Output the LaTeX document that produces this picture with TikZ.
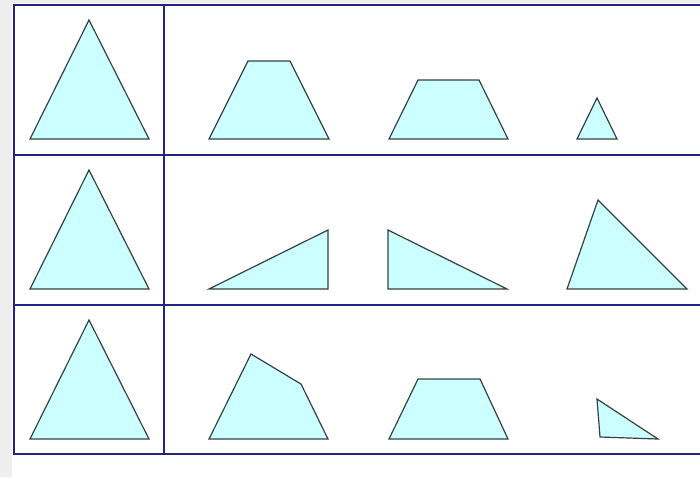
\documentclass[tikz,border=0pt]{standalone}
\usepackage{tikz}
\definecolor{gridblue}{RGB}{35,35,130}
\definecolor{shapefill}{RGB}{204,255,255}
\definecolor{shapeline}{RGB}{55,65,65}
\definecolor{pagegray}{RGB}{238,238,238}
\tikzset{
  polyshape/.style={fill=shapefill, draw=shapeline, line width=1.2pt, line join=miter},
  gridline/.style={draw=gridblue, line width=2.8pt}
}
\begin{document}
\begin{tikzpicture}[x=1pt,y=-1pt]
\useasboundingbox (0,0) rectangle (700,477);
\fill[white] (0,0) rectangle (700,477);
\fill[pagegray] (0,0) rectangle (12,477);
\fill[pagegray] (0,0) rectangle (700,3);
% row 1
\path[polyshape] (30,139) -- (149,139) -- (89,20) -- cycle;
\path[polyshape] (209,139) -- (329,139) -- (290,61) -- (248,61) -- cycle;
\path[polyshape] (389,139) -- (508,139) -- (479,80) -- (418,80) -- cycle;
\path[polyshape] (577,139) -- (617,139) -- (597,98) -- cycle;
% row 2
\path[polyshape] (30,289) -- (149,289) -- (89,170) -- cycle;
\path[polyshape] (209,289) -- (328,289) -- (328,230) -- cycle;
\path[polyshape] (388,230) -- (388,289) -- (507,289) -- cycle;
\path[polyshape] (567,289) -- (687,289) -- (598,200) -- cycle;
% row 3
\path[polyshape] (30,439) -- (149,439) -- (89,320) -- cycle;
\path[polyshape] (209,439) -- (328,439) -- (301,384) -- (251,354) -- cycle;
\path[polyshape] (389,439) -- (508,439) -- (480,379) -- (418,379) -- cycle;
\path[polyshape] (597,399) -- (600,437) -- (658,439) -- cycle;
% grid
\draw[gridline] (700,5) -- (14,5) -- (14,454) -- (700,454);
\draw[gridline] (14,155) -- (700,155);
\draw[gridline] (14,305) -- (700,305);
\draw[gridline] (164,5) -- (164,454);
\end{tikzpicture}
\end{document}
